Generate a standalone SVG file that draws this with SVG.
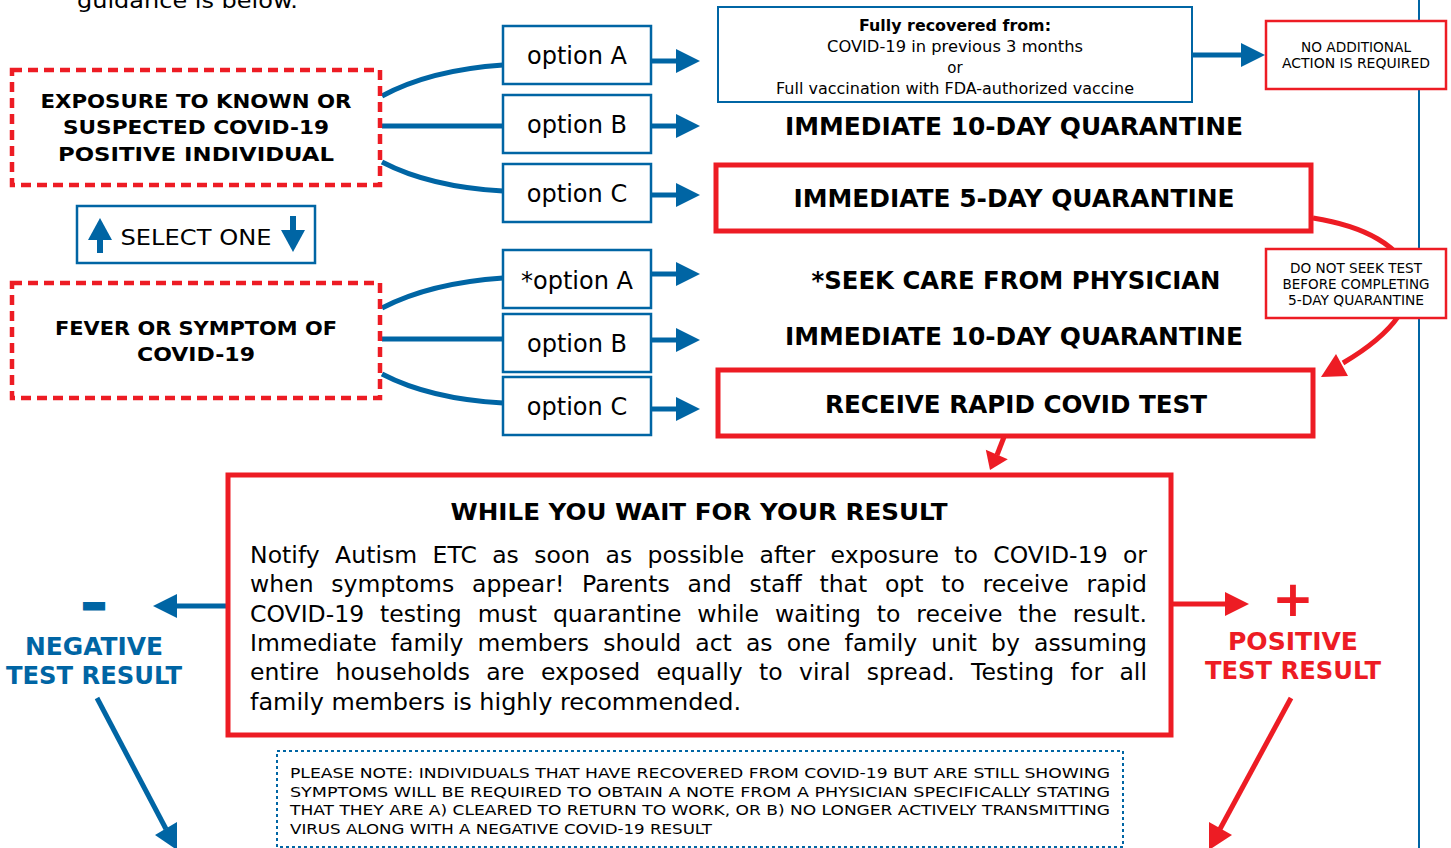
<svg xmlns="http://www.w3.org/2000/svg" width="1451" height="848" viewBox="0 0 1451 848">
<style>
text{font-family:"DejaVu Sans",Verdana,sans-serif;fill:#000}
.b{font-weight:bold}
.c{text-anchor:middle}
.opt{fill:#fff;stroke:#0065a4;stroke-width:2.5}
.dred{fill:#fff;stroke:#ed1c24;stroke-width:4.5;stroke-dasharray:10 6}
.rbox{fill:#fff;stroke:#ed1c24;stroke-width:5}
.rthin{fill:#fff;stroke:#ed1c24;stroke-width:2.5}
.bl{fill:none;stroke:#0065a4;stroke-width:5}
.rl{fill:none;stroke:#ed1c24;stroke-width:5}
.h{font-size:24.5px;font-weight:bold}
.o{font-size:24px}
</style>
<defs>
<marker id="ab" markerUnits="userSpaceOnUse" markerWidth="26" markerHeight="26" refX="2" refY="12" orient="auto"><path d="M0,0 L24,12 L0,24 z" fill="#0065a4"/></marker>
<marker id="ar" markerUnits="userSpaceOnUse" markerWidth="26" markerHeight="26" refX="2" refY="12" orient="auto"><path d="M0,0 L24,12 L0,24 z" fill="#ed1c24"/></marker>
</defs>
<rect width="1451" height="848" fill="#fff"/>
<text x="77" y="8" font-size="21" textLength="221" lengthAdjust="spacingAndGlyphs">guidance is below.</text>
<line x1="1419" y1="0" x2="1419" y2="848" stroke="#0065a4" stroke-width="2"/>

<g id="connectors">
<path class="bl" d="M382,96 Q430,70 503,65"/>
<path class="bl" d="M382,126 L503,126"/>
<path class="bl" d="M382,162 Q430,187 503,191"/>
<path class="bl" d="M382,308 Q430,283 503,278"/>
<path class="bl" d="M382,339 L503,339"/>
<path class="bl" d="M382,374 Q430,399 503,403"/>
<line class="bl" x1="652" y1="61" x2="678" y2="61" marker-end="url(#ab)"/>
<line class="bl" x1="652" y1="126" x2="678" y2="126" marker-end="url(#ab)"/>
<line class="bl" x1="652" y1="195" x2="678" y2="195" marker-end="url(#ab)"/>
<line class="bl" x1="652" y1="274" x2="678" y2="274" marker-end="url(#ab)"/>
<line class="bl" x1="652" y1="340" x2="678" y2="340" marker-end="url(#ab)"/>
<line class="bl" x1="652" y1="409" x2="678" y2="409" marker-end="url(#ab)"/>
<line class="bl" x1="1193" y1="55" x2="1243" y2="55" marker-end="url(#ab)"/>
<path class="rl" d="M1313,218 C1420,235 1450,300 1343,363"/>
<polygon points="1321,377 1336,354 1348,376" fill="#ed1c24"/>
<line class="rl" x1="1004" y1="437" x2="997" y2="455"/>
<polygon points="990,470 985.8,449.7 1007.8,459.3" fill="#ed1c24"/>
<line class="bl" x1="228" y1="606" x2="175" y2="606" marker-end="url(#ab)"/>
<line class="rl" x1="1172" y1="604" x2="1227" y2="604" marker-end="url(#ar)"/>
<line class="bl" x1="97" y1="698" x2="166" y2="829"/>
<polygon points="155,835 177,822 177,850" fill="#0065a4"/>
<line class="rl" x1="1291" y1="698" x2="1220" y2="829"/>
<polygon points="1209,822 1232,835 1209,850" fill="#ed1c24"/>
</g>

<g id="exposure">
<rect class="dred" x="12" y="70" width="368" height="115"/>
<text class="b c" x="196" y="108" font-size="20" textLength="311" lengthAdjust="spacingAndGlyphs">EXPOSURE TO KNOWN OR</text>
<text class="b c" x="196" y="134" font-size="20" textLength="266" lengthAdjust="spacingAndGlyphs">SUSPECTED COVID-19</text>
<text class="b c" x="196" y="161" font-size="20" textLength="276" lengthAdjust="spacingAndGlyphs">POSITIVE INDIVIDUAL</text>
</g>

<g id="select-one">
<rect x="77" y="206" width="238" height="57" fill="#fff" stroke="#0065a4" stroke-width="2.5"/>
<polygon points="100,218 88,240 112,240" fill="#0065a4"/>
<rect x="97" y="238" width="6" height="15" fill="#0065a4"/>
<polygon points="293,252 281,230 305,230" fill="#0065a4"/>
<rect x="290" y="216" width="6" height="16" fill="#0065a4"/>
<text class="c" x="196" y="245" font-size="21" textLength="151" lengthAdjust="spacingAndGlyphs">SELECT ONE</text>
</g>

<g id="fever">
<rect class="dred" x="12" y="283" width="368" height="115"/>
<text class="b c" x="196" y="335" font-size="20" textLength="282" lengthAdjust="spacingAndGlyphs">FEVER OR SYMPTOM OF</text>
<text class="b c" x="196" y="361" font-size="20" textLength="118" lengthAdjust="spacingAndGlyphs">COVID-19</text>
</g>

<g id="opt-a1"><rect class="opt" x="503" y="26" width="148" height="58"/><text class="o c" x="577" y="64">option A</text></g>
<g id="opt-b1"><rect class="opt" x="503" y="95" width="148" height="58"/><text class="o c" x="577" y="133">option B</text></g>
<g id="opt-c1"><rect class="opt" x="503" y="164" width="148" height="58"/><text class="o c" x="577" y="202">option C</text></g>
<g id="opt-a2"><rect class="opt" x="503" y="250" width="148" height="58"/><text class="o c" x="577" y="289">*option A</text></g>
<g id="opt-b2"><rect class="opt" x="503" y="314" width="148" height="58"/><text class="o c" x="577" y="352">option B</text></g>
<g id="opt-c2"><rect class="opt" x="503" y="377" width="148" height="58"/><text class="o c" x="577" y="415">option C</text></g>

<g id="fully-recovered">
<rect x="718" y="7" width="474" height="95" fill="#fff" stroke="#0065a4" stroke-width="2"/>
<text class="b c" x="955" y="31" font-size="15" textLength="192" lengthAdjust="spacingAndGlyphs">Fully recovered from:</text>
<text class="c" x="955" y="52" font-size="15" textLength="256" lengthAdjust="spacingAndGlyphs">COVID-19 in previous 3 months</text>
<text class="c" x="955" y="73" font-size="15">or</text>
<text class="c" x="955" y="94" font-size="15" textLength="358" lengthAdjust="spacingAndGlyphs">Full vaccination with FDA-authorized vaccine</text>
</g>

<g id="no-action">
<rect class="rthin" x="1266" y="21" width="180" height="68"/>
<text class="c" x="1356" y="52" font-size="13.5" textLength="110" lengthAdjust="spacingAndGlyphs">NO ADDITIONAL</text>
<text class="c" x="1356" y="68" font-size="13.5" textLength="148" lengthAdjust="spacingAndGlyphs">ACTION IS REQUIRED</text>
</g>

<g id="q10-a"><text class="h c" x="1014" y="135" textLength="458" lengthAdjust="spacingAndGlyphs">IMMEDIATE 10-DAY QUARANTINE</text></g>

<g id="q5">
<rect class="rbox" x="716" y="165" width="595" height="66"/>
<text class="h c" x="1014" y="207" textLength="441" lengthAdjust="spacingAndGlyphs">IMMEDIATE 5-DAY QUARANTINE</text>
</g>

<g id="do-not-seek">
<rect class="rthin" x="1266" y="249" width="180" height="69"/>
<text class="c" x="1356" y="273" font-size="13.5" textLength="132" lengthAdjust="spacingAndGlyphs">DO NOT SEEK TEST</text>
<text class="c" x="1356" y="289" font-size="13.5" textLength="147" lengthAdjust="spacingAndGlyphs">BEFORE COMPLETING</text>
<text class="c" x="1356" y="305" font-size="13.5" textLength="136" lengthAdjust="spacingAndGlyphs">5-DAY QUARANTINE</text>
</g>

<g id="seek-care"><text class="h c" x="1016" y="289" textLength="409" lengthAdjust="spacingAndGlyphs">*SEEK CARE FROM PHYSICIAN</text></g>
<g id="q10-b"><text class="h c" x="1014" y="345" textLength="458" lengthAdjust="spacingAndGlyphs">IMMEDIATE 10-DAY QUARANTINE</text></g>

<g id="rapid-test">
<rect class="rbox" x="718" y="370" width="595" height="66"/>
<text class="h c" x="1016" y="413" textLength="382" lengthAdjust="spacingAndGlyphs">RECEIVE RAPID COVID TEST</text>
</g>

<g id="wait">
<rect class="rbox" x="228" y="475" width="943" height="260"/>
<text class="b c" x="699" y="520" font-size="23" textLength="497" lengthAdjust="spacingAndGlyphs">WHILE YOU WAIT FOR YOUR RESULT</text>
<g font-size="23.5">
<text x="250" y="563" word-spacing="7.7" textLength="897" lengthAdjust="spacing">Notify Autism ETC as soon as possible after exposure to COVID-19 or</text>
<text x="250" y="592" word-spacing="10.2" textLength="897" lengthAdjust="spacing">when symptoms appear! Parents and staff that opt to receive rapid</text>
<text x="250" y="622" word-spacing="8.4" textLength="897" lengthAdjust="spacing">COVID-19 testing must quarantine while waiting to receive the result.</text>
<text x="250" y="651" word-spacing="6.7" textLength="897" lengthAdjust="spacing">Immediate family members should act as one family unit by assuming</text>
<text x="250" y="680" word-spacing="8.7" textLength="897" lengthAdjust="spacing">entire households are exposed equally to viral spread. Testing for all</text>
<text x="250" y="710" textLength="491" lengthAdjust="spacingAndGlyphs">family members is highly recommended.</text>
</g>
</g>

<g id="negative">
<text class="b c" x="94" y="618" font-size="44" style="fill:#0065a4" stroke="#0065a4" stroke-width="3" textLength="24" lengthAdjust="spacingAndGlyphs">–</text>
<text class="b c" x="94" y="655" font-size="24.5" style="fill:#0065a4" textLength="138" lengthAdjust="spacingAndGlyphs">NEGATIVE</text>
<text class="b c" x="94" y="684" font-size="24.5" style="fill:#0065a4" textLength="176" lengthAdjust="spacingAndGlyphs">TEST RESULT</text>
</g>

<g id="positive">
<text class="b c" x="1293" y="616" font-size="50" style="fill:#ed1c24">+</text>
<text class="b c" x="1293" y="650" font-size="24.5" style="fill:#ed1c24" textLength="130" lengthAdjust="spacingAndGlyphs">POSITIVE</text>
<text class="b c" x="1293" y="679" font-size="24.5" style="fill:#ed1c24" textLength="176" lengthAdjust="spacingAndGlyphs">TEST RESULT</text>
</g>

<g id="note">
<rect x="277" y="751" width="846" height="96" fill="#fff" stroke="#0065a4" stroke-width="2" stroke-dasharray="3 3"/>
<g font-size="14">
<text x="290" y="778" textLength="820" lengthAdjust="spacingAndGlyphs">PLEASE NOTE: INDIVIDUALS THAT HAVE RECOVERED FROM COVID-19 BUT ARE STILL SHOWING</text>
<text x="290" y="797" textLength="820" lengthAdjust="spacingAndGlyphs">SYMPTOMS WILL BE REQUIRED TO OBTAIN A NOTE FROM A PHYSICIAN SPECIFICALLY STATING</text>
<text x="290" y="815" textLength="820" lengthAdjust="spacingAndGlyphs">THAT THEY ARE A) CLEARED TO RETURN TO WORK, OR B) NO LONGER ACTIVELY TRANSMITTING</text>
<text x="290" y="834" textLength="422" lengthAdjust="spacingAndGlyphs">VIRUS ALONG WITH A NEGATIVE COVID-19 RESULT</text>
</g>
</g>
</svg>
